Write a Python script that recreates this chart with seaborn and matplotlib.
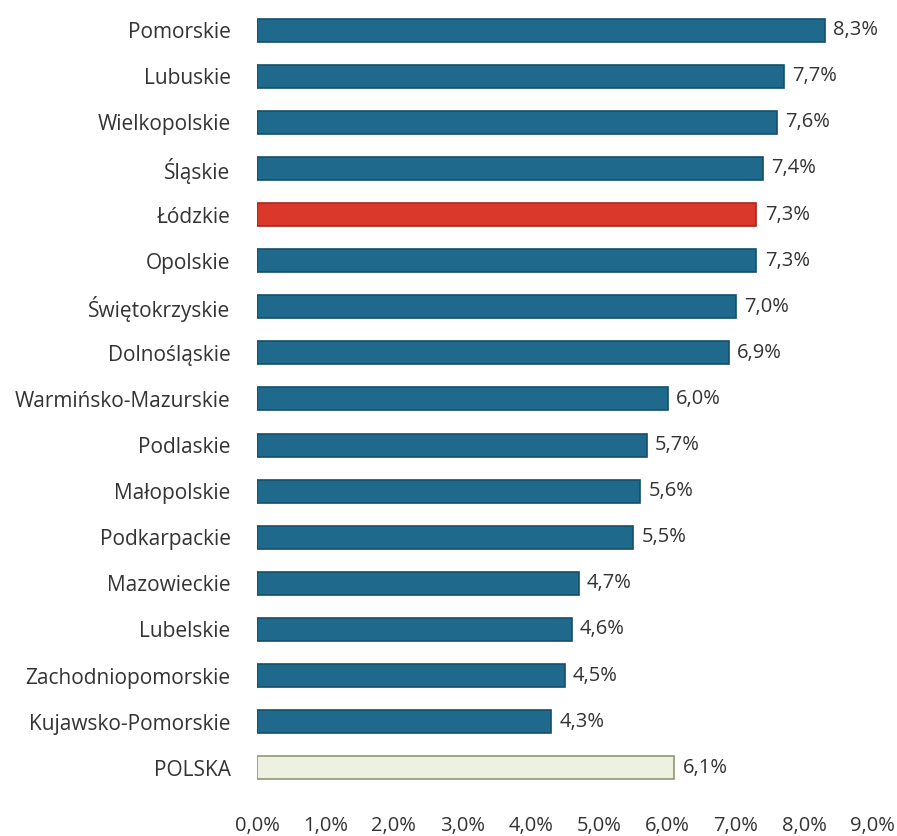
import matplotlib
matplotlib.use('Agg')
import pandas as pd
import seaborn as sns
from matplotlib import pyplot as plt
from matplotlib.ticker import MultipleLocator, FuncFormatter

regions = ['Pomorskie', 'Lubuskie', 'Wielkopolskie', 'Śląskie', 'Łódzkie', 'Opolskie',
           'Świętokrzyskie', 'Dolnośląskie', 'Warmińsko-Mazurskie', 'Podlaskie',
           'Małopolskie', 'Podkarpackie', 'Mazowieckie', 'Lubelskie',
           'Zachodniopomorskie', 'Kujawsko-Pomorskie', 'POLSKA']
values = [8.3, 7.7, 7.6, 7.4, 7.3, 7.3, 7.0, 6.9, 6.0, 5.7, 5.6, 5.5, 4.7, 4.6, 4.5, 4.3, 6.1]

blue = '#1f6a8c'
colors = [blue] * len(regions)
colors[regions.index('Łódzkie')] = '#d9382a'
colors[regions.index('POLSKA')] = '#eef0e0'
edges = ['#164f69'] * len(regions)
edges[regions.index('Łódzkie')] = '#a8261c'
edges[regions.index('POLSKA')] = '#8c9a72'

df = pd.DataFrame({'region': regions, 'value': values})

sns.set_style('white')
plt.rcParams['font.family'] = ['Open Sans', 'DejaVu Sans']

fig = plt.figure(figsize=(8.97, 8.36), dpi=100)
ax = fig.add_axes([0.2865, 0.054, 0.6865, 0.9376])

sns.barplot(data=df, x='value', y='region', hue='region', palette=colors,
            saturation=1, legend=False, width=0.5, ax=ax)
for patch, ec in zip(ax.patches, edges):
    patch.set_edgecolor(ec)
    patch.set_linewidth(1.2)

for i, v in enumerate(values):
    ax.text(v + 0.12, i, f'{v:.1f}%'.replace('.', ','), va='center', ha='left',
            fontsize=14.5, color='#333333')

ax.set_xlim(0, 9)
ax.set_ylim(len(regions) - 0.5, -0.5)
ax.xaxis.set_major_locator(MultipleLocator(1))
ax.xaxis.set_major_formatter(FuncFormatter(lambda x, p: f'{x:.1f}%'.replace('.', ',')))
ax.tick_params(axis='x', length=0, pad=18, labelsize=14.5, labelcolor='#333333')
ax.tick_params(axis='y', length=0, pad=19, labelsize=15, labelcolor='#333333')
ax.set_xlabel('')
ax.set_ylabel('')
sns.despine(ax=ax, left=True, bottom=True)

plt.savefig('out.png', dpi=100)
